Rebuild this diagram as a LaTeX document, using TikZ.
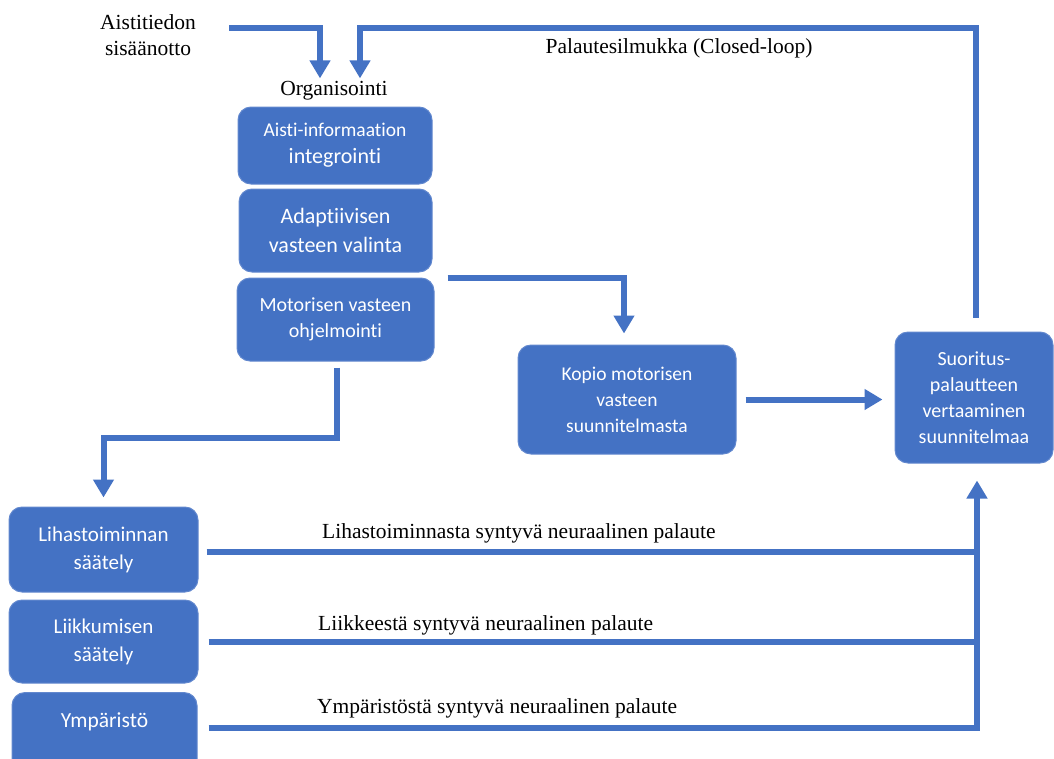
\documentclass[tikz,border=0pt]{standalone}
\usepackage{fontspec}
\setmainfont{Liberation Serif}
\newfontfamily\calfont[Ligatures={NoCommon,NoRequired,NoContextual}]{Carlito}
\usetikzlibrary{arrows.meta,calc}

\definecolor{officeblue}{RGB}{68,114,196}
\definecolor{boxedge}{RGB}{98,136,206}

\tikzset{
  box/.style={draw=boxedge, line width=1pt, fill=officeblue, rounded corners=13pt,
              text=white, align=center, inner sep=0pt, font=\calfont},
  serif/.style={font=\fontsize{21.5}{26}\selectfont, inner sep=0pt, align=center},
  link/.style={draw=officeblue, line width=6pt, line join=miter},
  flow/.style={link, -{Triangle[width=20pt,length=18pt]}},
}

\begin{document}
\begin{tikzpicture}[x=1pt,y=-1pt]
\useasboundingbox (0,0) rectangle (1054,758);

% organising boxes
\node[box, minimum width=194, minimum height=77, font=\calfont\fontsize{22}{27}\selectfont] (ais) at (335,145.5)
  {{\fontsize{19.5}{27}\selectfont Aisti-informaation}\\integrointi};
\node[box, minimum width=193, minimum height=83, font=\calfont\fontsize{22}{29}\selectfont] (ada) at (335.5,230.5)
  {Adaptiivisen\\vasteen valinta};
\node[box, minimum width=197, minimum height=83, font=\calfont\fontsize{20}{26}\selectfont] (mot) at (335.5,319.5)
  {Motorisen vasteen\\ohjelmointi};

% copy and comparison
\node[box, minimum width=218, minimum height=109, font=\calfont\fontsize{19.5}{26}\selectfont] (kop) at (627,399.5)
  {Kopio motorisen\\vasteen\\suunnitelmasta};
\node[box, minimum width=158, minimum height=131, font=\calfont\fontsize{20}{26}\selectfont] (suo) at (974,397.5)
  {Suoritus-\\palautteen\\vertaaminen\\suunnitelmaa};

% execution boxes
\node[box, minimum width=189, minimum height=85, font=\calfont\fontsize{21}{28}\selectfont] (lih) at (103.5,549.5)
  {Lihastoiminnan\\säätely};
\node[box, minimum width=189, minimum height=83, font=\calfont\fontsize{21}{28}\selectfont] (lii) at (103.5,641.5)
  {Liikkumisen\\säätely};
\node[box, anchor=north, minimum width=185, text height=35pt, text depth=45pt,
      font=\calfont\fontsize{21.5}{28}\selectfont] (ymp) at (104.5,692)
  {Ympäristö};

% plain labels
\node[serif] (sis) at (148,35) {Aistitiedon\\sisäänotto};
\node[serif] (org) at (334,91) {Organisointi};
\node[serif] (loop) at (679,48) {Palautesilmukka (Closed-loop)};
\node[serif, anchor=west] (f1) at (322,533) {Lihastoiminnasta syntyvä neuraalinen palaute};
\node[serif, anchor=west] (f2) at (318,625) {Liikkeestä syntyvä neuraalinen palaute};
\node[serif, anchor=west] (f3) at (317,708) {Ympäristöstä syntyvä neuraalinen palaute};

% sensory input and closed loop into the organising stage
\coordinate (inS) at (229,28);
\coordinate (orgIn) at ($(org.north)+(-14,-3)$);
\coordinate (loopIn) at ($(org.north)+(26,-3)$);
\draw[flow] (inS) -| (orgIn);
\draw[flow] ($(suo.north)+(2,-14)$) -- ($(suo.north |- inS)+(2,0)$) -| (loopIn);

% planning branches
\draw[flow] ($(ada.south east)+(15,5)$) -| ($(kop.north)+(-3,-11)$);
\draw[flow] ($(mot.south)+(1.5,6)$) -- ++(0,70) -| ($(lih.north)+(0,-9)$);
\coordinate (kopOut) at ($(kop.east)+(9,0)$);
\draw[flow] (kopOut) -- ($(kopOut -| suo.west)+(-12,0)$);

% neural feedback bus
\coordinate (bus) at ($(suo.south)+(3,17)$);
\draw[link] ($(lih.east)+(8,2.5)$) -- ($(lih.east -| bus)+(3,2.5)$);
\draw[link] ($(lii.east)+(10,0.5)$) -- ($(lii.east -| bus)+(3,0.5)$);
\draw[flow] ($(ymp.east)+(11,-5)$) -- ($(ymp.east -| bus)+(0,-5)$) -- (bus);
\end{tikzpicture}
\end{document}
